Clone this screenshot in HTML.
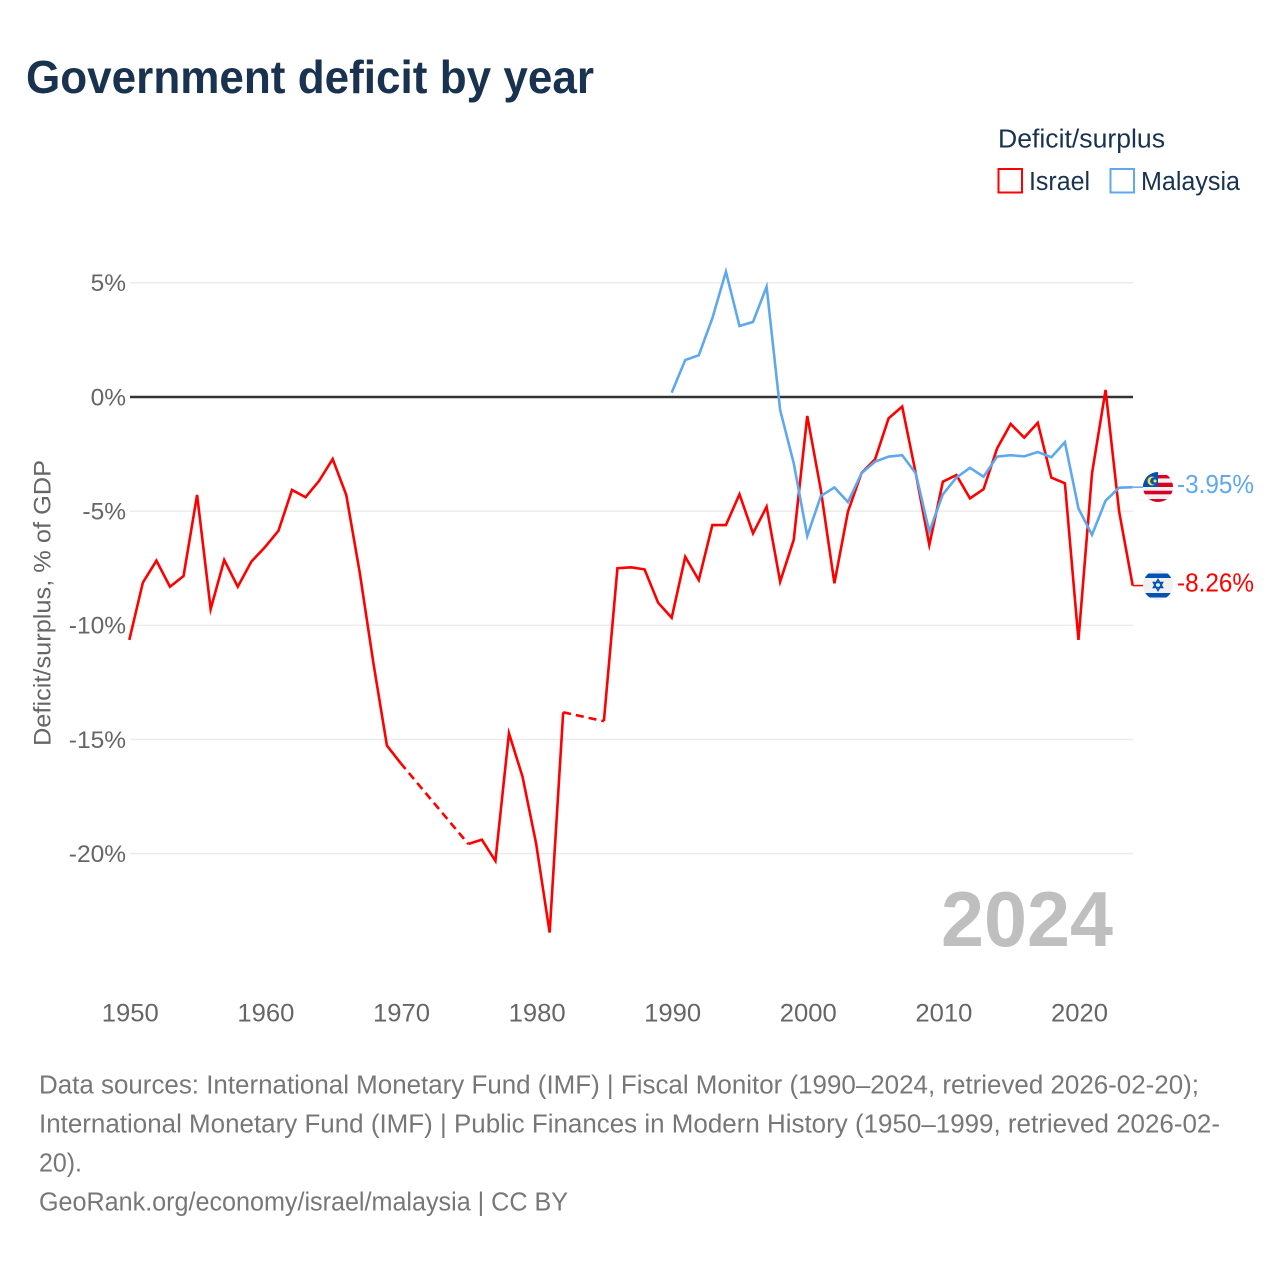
<!DOCTYPE html>
<html lang="en">
<head>
<meta charset="utf-8">
<title>Government deficit by year</title>
<style>
html,body{margin:0;padding:0;background:#fff;}
svg{display:block;font-family:"Liberation Sans",sans-serif;}
</style>
</head>
<body>
<svg id="chart" xmlns="http://www.w3.org/2000/svg" width="1280" height="1280" viewBox="0 0 1280 1280">
  <rect width="1280" height="1280" fill="#fff"/>
  <text x="26" y="93" font-size="46" font-weight="700" fill="#18324f" textLength="568" lengthAdjust="spacingAndGlyphs">Government deficit by year</text>

  <g>
    <text x="998" y="147.5" font-size="25.5" fill="#18324f" textLength="167" lengthAdjust="spacingAndGlyphs">Deficit/surplus</text>
    <g>
      <rect x="998.5" y="169" width="23.5" height="23.5" fill="#fff" stroke="#ff0000" stroke-width="2"/>
      <text x="1029" y="190" font-size="25.5" fill="#18324f" textLength="61" lengthAdjust="spacingAndGlyphs">Israel</text>
    </g>
    <g>
      <rect x="1110.5" y="169" width="23.5" height="23.5" fill="#fff" stroke="#5fa8ee" stroke-width="2"/>
      <text x="1141" y="190" font-size="25.5" fill="#18324f" textLength="99" lengthAdjust="spacingAndGlyphs">Malaysia</text>
    </g>
  </g>

  <g id="grid"></g>
  <g id="yticks" font-size="24.5" fill="#666"></g>
  <g id="xticks" font-size="25" fill="#666"></g>
  <text transform="translate(50.5,603) rotate(-90)" text-anchor="middle" font-size="24.5" fill="#666" textLength="286" lengthAdjust="spacingAndGlyphs">Deficit/surplus, % of GDP</text>

  <text x="941" y="946" font-size="78" font-weight="700" fill="#bfbfbf" textLength="172" lengthAdjust="spacingAndGlyphs">2024</text>

  <g id="series"></g>

  <defs>
    <clipPath id="flag-clip-my"><circle cx="1158" cy="487" r="15"/></clipPath>
    <clipPath id="flag-clip-il"><circle cx="1158" cy="585" r="15"/></clipPath>
  </defs>

  <g clip-path="url(#flag-clip-my)">
    <rect x="1143" y="472" width="30" height="30" fill="#f0f0f0"/>
    <rect x="1143" y="475" width="30" height="3.4" fill="#d80027"/>
    <rect x="1143" y="482.7" width="30" height="4.3" fill="#d80027"/>
    <rect x="1143" y="490.7" width="30" height="3.6" fill="#d80027"/>
    <rect x="1143" y="499" width="30" height="3.7" fill="#d80027"/>
    <rect x="1143" y="472" width="15" height="15" fill="#0052b4"/>
    <circle cx="1152" cy="481" r="4.5" fill="#ffda44"/>
    <circle cx="1153.8" cy="481" r="3.6" fill="#0052b4"/>
    <circle cx="1155" cy="481" r="1.6" fill="#ffda44"/>
  </g>
  <g clip-path="url(#flag-clip-il)">
    <rect x="1143" y="570" width="30" height="30" fill="#f0f0f0"/>
    <rect x="1143" y="573.5" width="30" height="4.5" fill="#0052b4"/>
    <rect x="1143" y="593" width="30" height="4.5" fill="#0052b4"/>
    <polygon points="1158,579.5 1162.6,587.5 1153.4,587.5" fill="none" stroke="#0052b4" stroke-width="1.5"/>
    <polygon points="1158,590.5 1162.6,582.5 1153.4,582.5" fill="none" stroke="#0052b4" stroke-width="1.5"/>
  </g>

  <g id="endlabels" font-size="25.5"></g>

  <g font-size="25.5" fill="#777">
    <text x="39" y="1093.5" textLength="1160" lengthAdjust="spacingAndGlyphs">Data sources: International Monetary Fund (IMF) | Fiscal Monitor (1990–2024, retrieved 2026-02-20);</text>
    <text x="39" y="1132.5" textLength="1181" lengthAdjust="spacingAndGlyphs">International Monetary Fund (IMF) | Public Finances in Modern History (1950–1999, retrieved 2026-02-</text>
    <text x="39" y="1171.5" textLength="43" lengthAdjust="spacingAndGlyphs">20).</text>
    <text x="39" y="1210.5" textLength="529" lengthAdjust="spacingAndGlyphs">GeoRank.org/economy/israel/malaysia | CC BY</text>
  </g>
</svg>
<script>
const yTicks = [5, 0, -5, -10, -15, -20];
const xTicks = [1950, 1960, 1970, 1980, 1990, 2000, 2010, 2020];
const israelStartYear = 1950;
const israelValues = [-10.64,-8.13,-7.17,-8.31,-7.84,-4.29,-9.29,-7.14,-8.31,-7.21,
  -6.58,-5.86,-4.07,-4.39,-3.67,-2.72,-4.29,-7.71,-11.65,-15.27,
  -16.03,null,null,null,null,-19.58,-19.39,-20.32,-14.73,-16.63,
  -19.55,-23.46,-13.81,null,null,-14.2,-7.5,-7.46,-7.55,-9.01,
  -9.67,-7.0,-8.02,-5.61,-5.61,-4.26,-5.97,-4.81,-8.09,-6.26,
  -0.83,-4.07,-8.16,-5.02,-3.33,-2.73,-0.93,-0.42,-3.34,-6.48,
  -3.71,-3.42,-4.44,-4.04,-2.25,-1.18,-1.78,-1.13,-3.53,-3.78,
  -10.64,-3.34,0.31,-5.02,-8.26];
const malaysiaStartYear = 1990;
const malaysiaValues = [0.19,1.62,1.83,3.45,5.49,3.11,3.29,4.83,-0.57,-2.9,
  -6.09,-4.34,-3.96,-4.6,-3.34,-2.83,-2.61,-2.55,-3.34,-5.9,
  -4.26,-3.53,-3.1,-3.49,-2.61,-2.55,-2.6,-2.41,-2.64,-1.98,
  -4.88,-6.04,-4.54,-3.97,-3.95];

const NS = 'http://www.w3.org/2000/svg';
function xScale(year){ return 129.3 + (year - 1950) * (1132.7 - 129.3) / 74; }
function yScale(v){ return 397 - v * 22.83; }
function make(tag, attrs, parent){
  const el = document.createElementNS(NS, tag);
  for (const k in attrs) el.setAttribute(k, attrs[k]);
  parent.appendChild(el);
  return el;
}
const grid = document.getElementById('grid');
const yt = document.getElementById('yticks');
const xt = document.getElementById('xticks');
const seriesG = document.getElementById('series');
const endG = document.getElementById('endlabels');

yTicks.filter(function(t){ return t !== 0; }).forEach(function(t){
  const ln = make('line', {x1:130, x2:1133, y1:yScale(t), y2:yScale(t), stroke:'#ececec', 'stroke-width':1.5}, grid);
  
  
});
yTicks.forEach(function(t){
  const tx = make('text', {x:126, y:yScale(t) + 8.3, 'text-anchor':'end'}, yt);
  tx.textContent = t + '%';
  
  
});
xTicks.forEach(function(t){
  const tx = make('text', {x:xScale(t) + 1, y:1021.5, 'text-anchor':'middle', textLength:57, lengthAdjust:'spacingAndGlyphs'}, xt);
  tx.textContent = t;
  
  
});
const zero = make('line', {x1:130, x2:1133, y1:yScale(0), y2:yScale(0), stroke:'#333', 'stroke-width':2.5}, grid);



function drawSeries(values, startYear, color, name){
  const pts = [];
  values.forEach(function(v, i){
    if (v !== null) pts.push({year:startYear + i, v:v});
  });
  function coord(p){ return xScale(p.year).toFixed(2) + ' ' + yScale(p.v).toFixed(2); }
  let solid = '', dashed = '', prev = null;
  pts.forEach(function(p){
    const c = coord(p);
    if (prev === null) {
      solid += 'M' + c;
    } else if (p.year - prev.year === 1) {
      solid += (solid.endsWith(coord(prev)) ? 'L' : 'M' + coord(prev) + 'L') + c;
    } else {
      dashed += 'M' + coord(prev) + 'L' + c;
    }
    prev = p;
  });
  const sp = make('path', {d:solid, fill:'none', stroke:color, 'stroke-width':2.6, 'stroke-linejoin':'miter', 'stroke-miterlimit':6}, seriesG);
  
  
  if (dashed) {
    const dp = make('path', {d:dashed, fill:'none', stroke:color, 'stroke-width':2.6, 'stroke-dasharray':'8 5'}, seriesG);
    
    
  }
  const last = pts[pts.length - 1];
  const ly = yScale(last.v);
  const lead = make('line', {x1:xScale(last.year), x2:1143, y1:ly, y2:ly, stroke:color, 'stroke-width':1.5}, seriesG);
  
  
  const lab = make('text', {x:1177, y:ly + 6, fill:color, textLength:77, lengthAdjust:'spacingAndGlyphs'}, endG);
  lab.textContent = last.v.toFixed(2) + '%';
  
  
}
drawSeries(israelValues, israelStartYear, '#ff0000', 'israel');
drawSeries(malaysiaValues, malaysiaStartYear, '#5fa8ee', 'malaysia');
</script>
</body>
</html>
